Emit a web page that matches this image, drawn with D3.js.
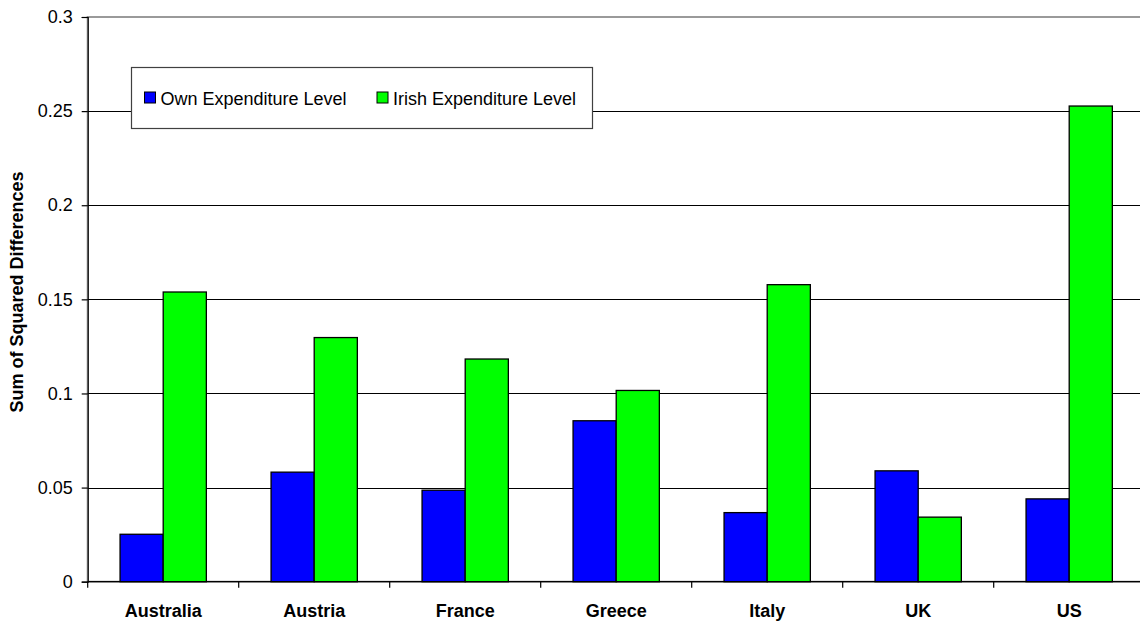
<!DOCTYPE html>
<html>
<head>
<meta charset="utf-8">
<script src="https://cdn.jsdelivr.net/npm/d3@7"></script>
<style>
  html, body { margin: 0; padding: 0; background: #fff; }
  svg { display: block; font-family: "Liberation Sans", Arial, sans-serif; }
</style>
</head>
<body>
<svg id="chart" width="1140" height="625"></svg>
<script>
// Sum of squared differences by country, two expenditure scenarios
const countries = ["Australia", "Austria", "France", "Greece", "Italy", "UK", "US"];
const seriesNames = ["Own Expenditure Level", "Irish Expenditure Level"];
const ownLevel   = [0.0252, 0.0582, 0.0486, 0.0855, 0.0367, 0.0589, 0.0440];
const irishLevel = [0.1539, 0.1297, 0.1183, 0.1016, 0.1578, 0.0343, 0.2527];
const yTicks = [0, 0.05, 0.1, 0.15, 0.2, 0.25, 0.3];
const seriesColors = ["#0000FF", "#00FF00"];

const svg = d3.select("#chart");
const plot = { left: 87.7, top: 17, bottom: 581.7 };
const band = 151;
plot.right = plot.left + band * countries.length;

const x0 = d3.scaleBand().domain(countries).range([plot.left, plot.right]).padding(0);
const bw = x0.bandwidth();
const gap = bw * 1.5 / 3.5;
const x1 = d3.scaleBand().domain(seriesNames).range([gap / 2, bw - gap / 2]).padding(0);
const y = d3.scaleLinear().domain([0, 0.3]).range([plot.bottom, plot.top]);

// plot border (top/right) in gray
svg.append("rect")
  .attr("x", plot.left).attr("y", y(0.3))
  .attr("width", plot.right - plot.left).attr("height", y(0) - y(0.3))
  .attr("fill", "none").attr("stroke", "#9a9a9a").attr("stroke-width", 2);

// horizontal gridlines
svg.append("g").selectAll("line")
  .data(yTicks.filter(d => d > 0 && d < 0.3))
  .join("line")
  .attr("x1", plot.left).attr("x2", plot.right)
  .attr("y1", d => Math.round(y(d)) + 0.5).attr("y2", d => Math.round(y(d)) + 0.5)
  .attr("stroke", "#000").attr("stroke-width", 1);

// bars
const rows = countries.map((c, i) => ({ country: c, values: [ownLevel[i], irishLevel[i]] }));
svg.append("g").selectAll("g")
  .data(rows)
  .join("g")
  .attr("transform", d => `translate(${x0(d.country)},0)`)
  .selectAll("rect")
  .data(d => d.values.map((v, j) => ({ key: seriesNames[j], value: v, color: seriesColors[j] })))
  .join("rect")
  .attr("x", d => x1(d.key))
  .attr("y", d => y(d.value))
  .attr("width", x1.bandwidth())
  .attr("height", d => y(0) - y(d.value))
  .attr("fill", d => d.color)
  .attr("stroke", "#000").attr("stroke-width", 1.3);

// y axis
const yAxis = d3.axisLeft(y).tickValues(yTicks).tickSize(6).tickPadding(9)
  .tickFormat(d => d === 0 ? "0" : String(+d.toFixed(2)));
const gy = svg.append("g").attr("transform", `translate(${plot.left},0)`).call(yAxis);
gy.select(".domain").attr("stroke", "#000").attr("stroke-width", 1.2);
gy.selectAll(".tick line").attr("stroke", "#000").attr("stroke-width", 1.2);
gy.selectAll(".tick text").attr("font-size", 18).attr("fill", "#000")
  .attr("font-family", "Liberation Sans, Arial, sans-serif");

// x axis: ticks at band boundaries, labels at band centres
const gx = svg.append("g");
gx.append("line")
  .attr("x1", plot.left).attr("x2", plot.right)
  .attr("y1", y(0)).attr("y2", y(0))
  .attr("stroke", "#000").attr("stroke-width", 1.2);
gx.selectAll("line.tick")
  .data(countries)
  .join("line")
  .attr("class", "tick")
  .attr("x1", d => x0(d)).attr("x2", d => x0(d))
  .attr("y1", y(0)).attr("y2", y(0) + 6)
  .attr("stroke", "#000").attr("stroke-width", 1.2);
gx.selectAll("text")
  .data(countries)
  .join("text")
  .attr("x", d => x0(d) + bw / 2)
  .attr("y", 616.5)
  .attr("text-anchor", "middle")
  .attr("font-size", 18).attr("font-weight", "bold")
  .text(d => d);

// y axis title
svg.append("text")
  .attr("transform", "translate(23,292) rotate(-90)")
  .attr("text-anchor", "middle")
  .attr("font-size", 18).attr("font-weight", "bold")
  .text("Sum of Squared Differences");

// legend
const legend = svg.append("g");
legend.append("rect")
  .attr("x", 131.5).attr("y", 67.5).attr("width", 461).attr("height", 61)
  .attr("fill", "#fff").attr("stroke", "#404040").attr("stroke-width", 1.2);
const legendX = [144.5, 377];
seriesNames.forEach((name, i) => {
  legend.append("rect")
    .attr("x", legendX[i]).attr("y", 92)
    .attr("width", 11).attr("height", 11)
    .attr("fill", seriesColors[i]).attr("stroke", "#000").attr("stroke-width", 1);
  legend.append("text")
    .attr("x", legendX[i] + 16).attr("y", 105)
    .attr("font-size", 18)
    .text(name);
});
</script>
</body>
</html>
